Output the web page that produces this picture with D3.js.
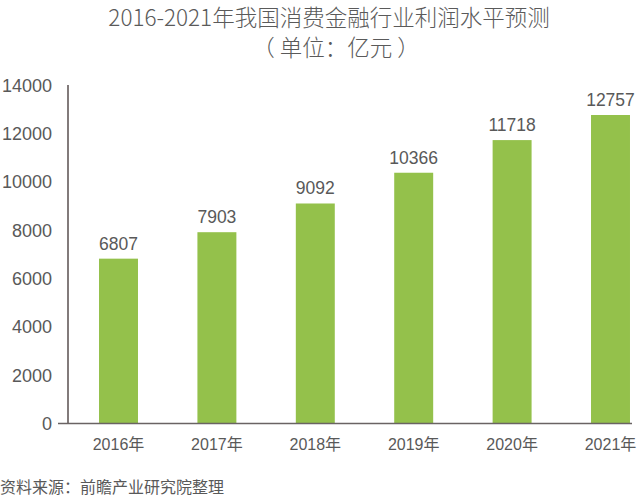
<!DOCTYPE html>
<html><head><meta charset="utf-8">
<script src="https://cdn.jsdelivr.net/npm/d3@7"></script>
<style>
body{margin:0;background:#fff;}
text{font-family:"Liberation Sans","Noto Sans CJK SC",sans-serif;fill:#595959;}
.title{font-family:"Noto Sans CJK SC",sans-serif;font-weight:300;fill:#5a5a5a;}
</style></head><body>
<svg id="c" width="640" height="497"></svg>
<script>
const years = ["2016年","2017年","2018年","2019年","2020年","2021年"];
const profits = [6807, 7903, 9092, 10366, 11718, 12757];
const yTicks = [0,2000,4000,6000,8000,10000,12000,14000];
const titleLines = ["2016-2021年我国消费金融行业利润水平预测","（ 单位：亿元 ）"];
const sourceText = "资料来源：前瞻产业研究院整理";

const svg = d3.select("#c");
const x = d3.scaleBand().domain(years).range([69.5, 659.5]).paddingInner(0.604).paddingOuter(0.3);
const y = d3.scaleLinear().domain([0,14000]).range([423, 85]);

svg.append("text").attr("class","title").attr("x",329).attr("y",26).attr("text-anchor","middle")
  .style("font-size","22.5px").text(titleLines[0]);
svg.append("text").attr("class","title").attr("x",336).attr("y",56).attr("text-anchor","middle")
  .style("font-size","22.5px").text(titleLines[1]);

svg.selectAll("rect.bar").data(profits).join("rect").attr("class","bar")
  .attr("x",(d,i)=>x(years[i])).attr("width",x.bandwidth())
  .attr("y",d=>y(d)).attr("height",d=>y(0)-y(d)).attr("fill","#94c14b");

svg.selectAll("text.val").data(profits).join("text").attr("class","val")
  .attr("x",(d,i)=>x(years[i])+x.bandwidth()/2).attr("y",d=>y(d)-9)
  .attr("text-anchor","middle").style("font-size","17.5px").text(d=>d);

const yAxis = svg.append("g").attr("transform","translate(52,0)")
  .call(d3.axisLeft(y).tickValues(yTicks).tickSize(0).tickPadding(0).tickFormat(d3.format("d")));
yAxis.select(".domain").remove();
yAxis.selectAll("text").style("font-size","18px").attr("dy","0.35em").style("fill","#595959");

svg.append("line").attr("x1",68).attr("x2",68).attr("y1",85).attr("y2",424).attr("stroke","#594f4f").attr("stroke-width",1.5);
svg.append("line").attr("x1",58).attr("x2",632).attr("y1",423.5).attr("y2",423.5).attr("stroke","#6a6363").attr("stroke-width",1.5);

svg.selectAll("text.xl").data(years).join("text").attr("class","xl")
  .attr("x",d=>x(d)+x.bandwidth()/2).attr("y",450).attr("text-anchor","middle")
  .style("font-size","16px").text(d=>d);

svg.append("text").attr("x",0).attr("y",493).style("font-size","16px").text(sourceText);
</script></body></html>
